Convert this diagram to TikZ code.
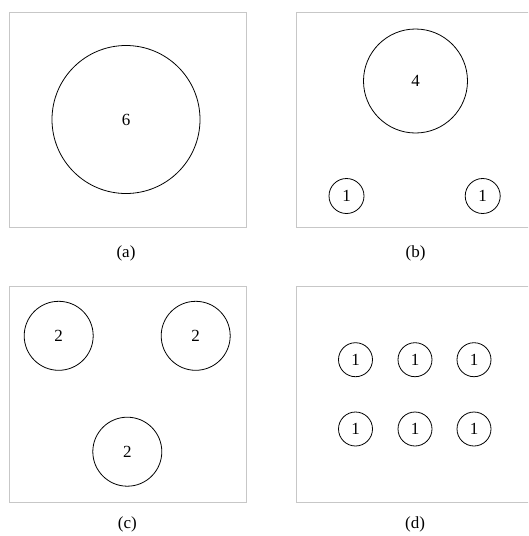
\documentclass[tikz,border=0pt]{standalone}
\usepackage{fontspec}
\setmainfont{Liberation Serif}
\begin{document}
\begin{tikzpicture}[x=1pt,y=-1pt,
  panel/.style={draw=black!22,line width=1pt},
  ball/.style={draw=black,line width=0.8pt,circle,inner sep=0pt,font=\fontsize{17}{19}\selectfont},
  captext/.style={font=\fontsize{17}{19}\selectfont}]
\useasboundingbox (0,0) rectangle (528,536);
\begin{scope}
\clip (0,0) rectangle (528,536);
\draw[panel] (9,12) rectangle (246.5,227);
\draw[panel] (296.5,12) rectangle (540,227);
\draw[panel] (9,286.5) rectangle (246.5,502);
\draw[panel] (296.5,286.5) rectangle (540,502);
\end{scope}
% (a)
\node[ball,minimum size=148pt] (a6) at (126,119.5) {6};
\node[captext] (la) at (126,253) {(a)};
% (b)
\node[ball,minimum size=104pt] (b4) at (415.5,81) {4};
\node[ball,minimum size=35pt] (b1) at (346.5,196) {1};
\node[ball,minimum size=35pt] (b2) at (482.7,196) {1};
\node[captext] (lb) at (415.5,253) {(b)};
% (c)
\node[ball,minimum size=69pt] (c1) at (58.7,335.8) {2};
\node[ball,minimum size=69pt] (c2) at (195.7,335.8) {2};
\node[ball,minimum size=69pt] (c3) at (127.3,451.7) {2};
\node[captext] (lc) at (127.3,524) {(c)};
% (d)
\node[ball,minimum size=34pt] (d1) at (355.5,359.7) {1};
\node[ball,minimum size=34pt] (d2) at (415,359.7) {1};
\node[ball,minimum size=34pt] (d3) at (474,359.7) {1};
\node[ball,minimum size=34pt] (d4) at (355.5,429) {1};
\node[ball,minimum size=34pt] (d5) at (415,429) {1};
\node[ball,minimum size=34pt] (d6) at (474,429) {1};
\node[captext] (ld) at (415,524) {(d)};
\end{tikzpicture}
\end{document}
